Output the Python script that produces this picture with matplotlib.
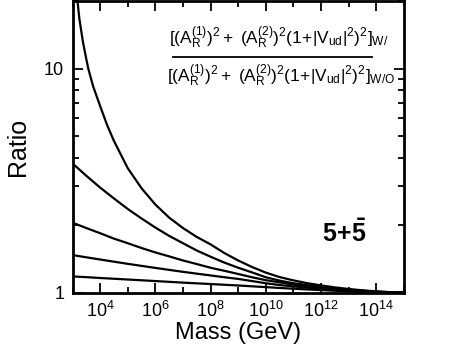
import matplotlib
matplotlib.use("Agg")
import matplotlib.pyplot as plt
from matplotlib.lines import Line2D
from matplotlib.ticker import FixedLocator, NullFormatter, FixedFormatter

plt.rcParams['font.family'] = ['Liberation Sans', 'DejaVu Sans']
plt.rcParams['mathtext.fontset'] = 'custom'
plt.rcParams['mathtext.rm'] = 'Liberation Sans'
plt.rcParams['mathtext.it'] = 'Liberation Sans'
plt.rcParams['mathtext.bf'] = 'Liberation Sans:bold'

# ---- data (log10 of mass in GeV, ratio) ----
mass_exp_top = [3.0, 3.1, 3.18, 3.25, 3.375, 3.5, 3.57, 3.75, 4.0, 4.25, 4.5,
                5.0, 5.5, 6.0, 6.5, 7.0, 7.5, 8.0, 8.5, 9.0, 9.5, 10.0,
                10.5, 11.0, 11.5, 12.0, 12.5, 13.0, 13.5, 14.0, 14.5, 15.0]
ratio_1 = [34, 25, 20, 16.6, 13.2, 11.0, 10.0, 8.3, 6.8, 5.6, 4.75,
           3.59, 2.92, 2.47, 2.16, 1.94, 1.77, 1.64, 1.50, 1.39, 1.30, 1.227,
           1.172, 1.133, 1.101, 1.076, 1.054, 1.037, 1.023, 1.012, 1.004, 1.0]

mass_exp = [3.0, 3.5, 4.0, 4.5, 5.0, 5.5, 6.0, 6.5, 7.0, 7.5, 8.0, 8.5, 9.0,
            9.5, 10.0, 10.5, 11.0, 11.5, 12.0, 12.5, 13.0, 13.5, 14.0, 14.5, 15.0]
ratio_2 = [3.77, 3.32, 2.94, 2.63, 2.36, 2.14, 1.95, 1.79, 1.66, 1.54, 1.445, 1.36, 1.29,
           1.23, 1.17, 1.13, 1.10, 1.08, 1.062, 1.045, 1.03, 1.018, 1.009, 1.003, 1.0]
ratio_3 = [2.05, 1.94, 1.84, 1.74, 1.66, 1.58, 1.51, 1.45, 1.39, 1.34, 1.29, 1.25, 1.21,
           1.17, 1.135, 1.11, 1.085, 1.065, 1.05, 1.036, 1.024, 1.014, 1.007, 1.002, 1.0]
ratio_4 = [1.47, 1.436, 1.404, 1.373, 1.343, 1.315, 1.288, 1.262, 1.237, 1.214, 1.192, 1.170, 1.150,
           1.125, 1.10, 1.08, 1.065, 1.05, 1.038, 1.027, 1.018, 1.011, 1.005, 1.002, 1.0]
ratio_5 = [1.18, 1.171, 1.161, 1.152, 1.143, 1.134, 1.125, 1.116, 1.107, 1.099, 1.091, 1.083, 1.075,
           1.066, 1.057, 1.048, 1.04, 1.032, 1.025, 1.018, 1.012, 1.007, 1.003, 1.001, 1.0]

x_major_exp = [4, 6, 8, 10, 12, 14]
x_minor_exp = [3, 5, 7, 9, 11, 13, 15]
y_major = [1, 10]
y_major_labels = ['1', '10']
y_minor = [2, 3, 4, 5, 6, 7, 8, 9, 20]

fig = plt.figure(figsize=(4.74, 3.55), dpi=100)
ax = fig.add_axes([0.153, 0.176, 0.699, 0.821])

ax.plot([10.0 ** e for e in mass_exp_top], ratio_1, color='black', lw=1.6)
for r in (ratio_2, ratio_3, ratio_4, ratio_5):
    ax.plot([10.0 ** e for e in mass_exp], r, color='black', lw=1.6)

ax.set_xscale('log')
ax.set_yscale('log')
ax.set_xlim(1e3, 1e15)
ax.set_ylim(1, 20)

ax.xaxis.set_major_locator(FixedLocator([10.0 ** e for e in x_major_exp]))
ax.xaxis.set_major_formatter(FixedFormatter([r'$10^{%d}$' % e for e in x_major_exp]))
ax.xaxis.set_minor_locator(FixedLocator([10.0 ** e for e in x_minor_exp]))
ax.xaxis.set_minor_formatter(NullFormatter())
ax.yaxis.set_major_locator(FixedLocator(y_major))
ax.yaxis.set_major_formatter(FixedFormatter(y_major_labels))
ax.yaxis.set_minor_locator(FixedLocator(y_minor))
ax.yaxis.set_minor_formatter(NullFormatter())

ax.tick_params(which='both', direction='in', top=True, right=True, width=1.3)
ax.tick_params(which='major', length=7, labelsize=13, pad=6)
ax.tick_params(which='minor', length=4)
for s in ax.spines.values():
    s.set_linewidth(2.0)

ax.set_xlabel('Mass (GeV)', fontsize=17, labelpad=1)
ax.set_ylabel('Ratio', fontsize=18, labelpad=10)

num = r'$[(\mathrm{A}_{\mathrm{R}}^{(1)})^2+\ (\mathrm{A}_{\mathrm{R}}^{(2)})^2(1\!+\!|\mathrm{V}_{\mathrm{ud}}|^2)^2]_{\mathrm{W/}}$'
den = r'$[(\mathrm{A}_{\mathrm{R}}^{(1)})^2+\ (\mathrm{A}_{\mathrm{R}}^{(2)})^2(1\!+\!|\mathrm{V}_{\mathrm{ud}}|^2)^2]_{\mathrm{W/O}}$'
fig.text(0.589, 0.893, num, ha='center', va='center', fontsize=12.4)
fig.text(0.594, 0.787, den, ha='center', va='center', fontsize=12.4)
fig.add_artist(Line2D([0.364, 0.784], [0.839, 0.839], color='black', lw=1.3, transform=fig.transFigure))

ax.text(0.822, 0.205, r'$\mathbf{5\!+\!\bar{5}}$', transform=ax.transAxes, ha='center', va='center', fontsize=18)

fig.savefig('out.png', dpi=100)
